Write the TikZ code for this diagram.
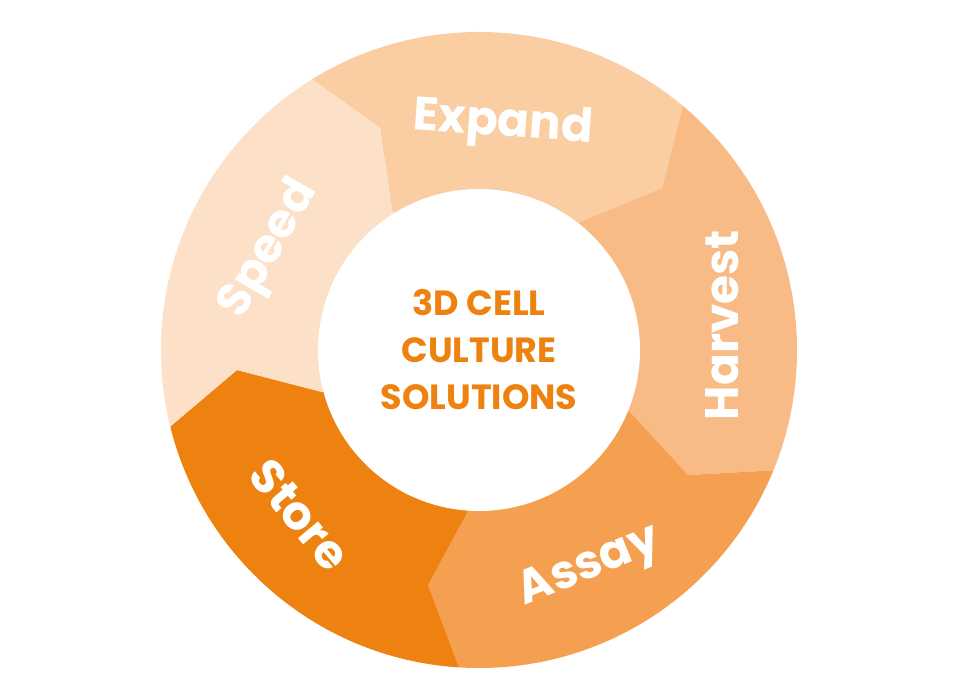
\documentclass[tikz,border=0pt]{standalone}
\usepackage{fontspec}
\setmainfont{Poppins}
\definecolor{cSpeed}{HTML}{FCE0C8}
\definecolor{cExpand}{HTML}{FBCDA3}
\definecolor{cHarvest}{HTML}{F8BB85}
\definecolor{cAssay}{HTML}{F5A050}
\definecolor{cStore}{HTML}{EE8210}
\begin{document}
\begin{tikzpicture}[x=1pt,y=-1pt,
    lbl/.style={text=white,font=\bfseries\fontsize{47}{47}\selectfont},
    hub/.style={circle,fill=white,minimum size=322pt,inner sep=0pt,align=center,
      text=cStore,font=\bfseries\fontsize{35}{47}\selectfont}]
  \useasboundingbox (0,0) rectangle (955,690);
  \coordinate (C) at (479,350);
  % boundaries: inner, kink, outside
  \coordinate (a1) at (392,210); \coordinate (a2) at (380,128); \coordinate (a3) at (246,32);
  \coordinate (b1) at (580,222); \coordinate (b2) at (662,188); \coordinate (b3) at (704,22);
  \coordinate (c1) at (630,412); \coordinate (c2) at (688,475); \coordinate (c3) at (870,465);
  \coordinate (d1) at (467,513); \coordinate (d2) at (428,585); \coordinate (d3) at (490,750);
  \coordinate (e1) at (322,392); \coordinate (e2) at (237,370); \coordinate (e3) at (100,486);
  \begin{scope}
    \clip (C) circle (318);
    \fill[cExpand] (C) -- (a1) -- (a2) -- (a3) -- (246,-100) -- (704,-100) -- (b3) -- (b2) -- (b1) -- cycle;
    \fill[cHarvest] (C) -- (b1) -- (b2) -- (b3) -- (1000,22) -- (1000,465) -- (c3) -- (c2) -- (c1) -- cycle;
    \fill[cAssay] (C) -- (c1) -- (c2) -- (c3) -- (870,800) -- (d3) -- (d2) -- (d1) -- cycle;
    \fill[cStore] (C) -- (d1) -- (d2) -- (d3) -- (0,800) -- (0,486) -- (e3) -- (e2) -- (e1) -- cycle;
    \fill[cSpeed] (C) -- (e1) -- (e2) -- (e3) -- (0,486) -- (0,-100) -- (246,-100) -- (a3) -- (a2) -- (a1) -- cycle;
  \end{scope}
  \node[hub] (hub) at (C) {3D CELL\\CULTURE\\SOLUTIONS};
  \node[lbl,rotate=-4] (expand) at (503,125) {Expand};
  \node[lbl,rotate=90] (harvest) at (722,325) {Harvest};
  \node[lbl,rotate=22] (assay) at (590,568) {Assay};
  \node[lbl,rotate=-50] (store) at (300,515) {Store};
  \node[lbl,rotate=60] (speed) at (270,250) {Speed};
\end{tikzpicture}
\end{document}
